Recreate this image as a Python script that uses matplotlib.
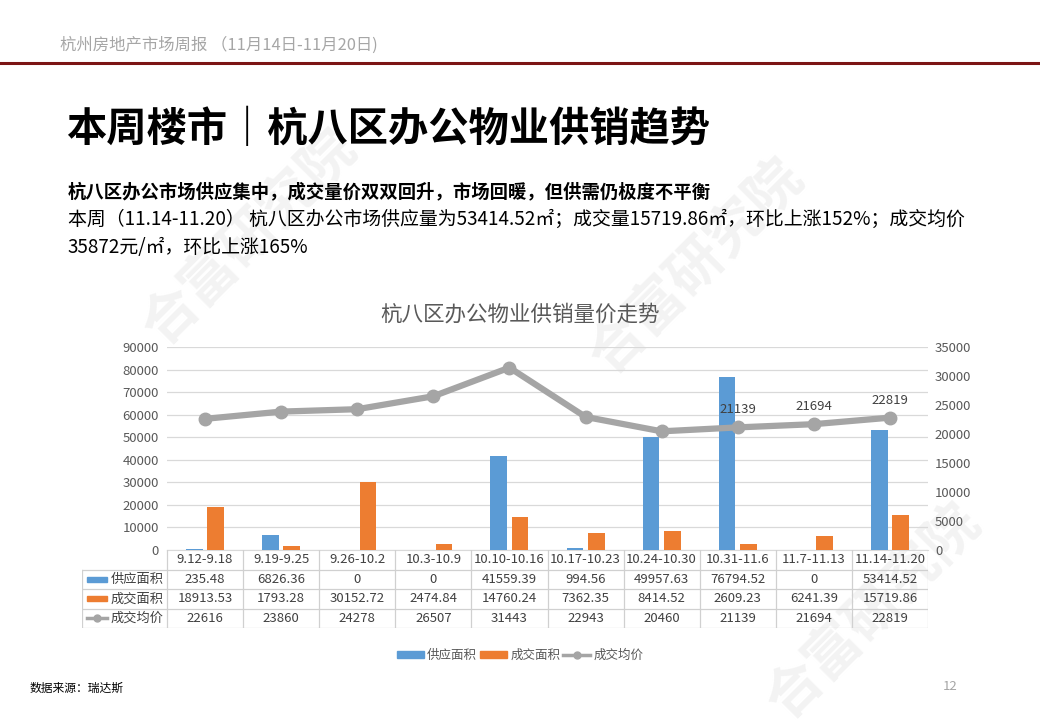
import numpy as np
import matplotlib
matplotlib.use("Agg")
import matplotlib.pyplot as plt
from matplotlib.patches import Rectangle
from matplotlib.lines import Line2D

plt.rcParams['font.family'] = ['Noto Sans CJK SC', 'DejaVu Sans']

# ---------------- data ----------------
weeks = ["9.12-9.18", "9.19-9.25", "9.26-10.2", "10.3-10.9", "10.10-10.16",
         "10.17-10.23", "10.24-10.30", "10.31-11.6", "11.7-11.13", "11.14-11.20"]
supply = [235.48, 6826.36, 0, 0, 41559.39, 994.56, 49957.63, 76794.52, 0, 53414.52]
deal = [18913.53, 1793.28, 30152.72, 2474.84, 14760.24, 7362.35, 8414.52, 2609.23, 6241.39, 15719.86]
price = [22616, 23860, 24278, 26507, 31443, 22943, 20460, 21139, 21694, 22819]

supply_txt = ["235.48", "6826.36", "0", "0", "41559.39", "994.56", "49957.63", "76794.52", "0", "53414.52"]
deal_txt = ["18913.53", "1793.28", "30152.72", "2474.84", "14760.24", "7362.35", "8414.52", "2609.23", "6241.39", "15719.86"]
price_txt = [str(p) for p in price]
row_names = ["供应面积", "成交面积", "成交均价"]

blue = "#5B9BD5"
orange = "#ED7D31"
grey = "#A5A5A5"
txtc = "#595959"
gridc = "#D9D9D9"

fig = plt.figure(figsize=(10.4, 7.2), dpi=100)
fig.patch.set_facecolor("white")

# ---------------- watermarks (faint, behind everything) ----------------
for (wx, wy) in [(0.24, 0.67), (0.67, 0.63), (0.84, 0.15)]:
    fig.text(wx, wy, "合富研究院", fontsize=40, color="#F3F3F3", rotation=45,
             ha="center", va="center", fontweight="bold", zorder=-10)

# ---------------- page header ----------------
fig.text(60/1040, 1-45/720, "杭州房地产市场周报 （11月14日-11月20日)", fontsize=11.8,
         color="#A6A6A6", va="center")
fig.add_artist(Line2D([0, 1], [1-63/720, 1-63/720], color="#7B1414", lw=2.2))
fig.text(66/1040, 1-130/720, "本周楼市｜杭八区办公物业供销趋势", fontsize=29,
         fontweight="bold", color="black", va="center")
fig.text(68/1040, 1-192/720, "杭八区办公市场供应集中，成交量价双双回升，市场回暖，但供需仍极度不平衡",
         fontsize=13.2, fontweight="bold", color="black", va="center")
fig.text(68/1040, 1-219/720,
         "本周（11.14-11.20） 杭八区办公市场供应量为53414.52㎡；成交量15719.86㎡，环比上涨152%；成交均价",
         fontsize=13.6, color="black", va="center")
fig.text(68/1040, 1-247/720, "35872元/㎡，环比上涨165%", fontsize=13.6, color="black", va="center")

# ---------------- chart ----------------
ax = fig.add_axes([167/1040, 1-550/720, 761/1040, 203/720])
ax.set_facecolor("none")
ax2 = ax.twinx()
x = np.arange(len(weeks))
w = 0.22
ax.bar(x - 0.14, supply, w, color=blue, zorder=3)
ax.bar(x + 0.14, deal, w, color=orange, zorder=3)
ax.set_xlim(-0.5, len(weeks) - 0.5)
ax.set_ylim(0, 90000)
ax.set_yticks(np.arange(0, 90001, 10000))
ax.yaxis.grid(True, color=gridc, lw=0.9, zorder=0)
ax.set_axisbelow(True)
ax.set_xticks([])
ax.tick_params(axis="y", length=0, labelsize=9.5, labelcolor=txtc, pad=6)
for s in ["top", "right", "left"]:
    ax.spines[s].set_visible(False)
ax.spines["bottom"].set_color(gridc)

ax2.plot(x, price, color=grey, lw=4.5, marker="o", ms=9, zorder=4,
         solid_capstyle="round")
ax2.set_ylim(0, 35000)
ax2.set_yticks(np.arange(0, 35001, 5000))
ax2.tick_params(axis="y", length=0, labelsize=9.5, labelcolor=txtc, pad=5)
for s in ["top", "right", "left", "bottom"]:
    ax2.spines[s].set_visible(False)
for i in [7, 8, 9]:
    ax2.annotate(str(price[i]), (x[i], price[i]), xytext=(0, 8), textcoords="offset points",
                 ha="center", va="bottom", fontsize=9.5, color="#404040")

fig.text(520/1040, 1-315/720, "杭八区办公物业供销量价走势", fontsize=15.5, color=txtc,
         ha="center", va="center")

# ---------------- data table ----------------
tax = fig.add_axes([82/1040, 1-628/720, 846/1040, 78/720])
tax.set_facecolor("none")
x0 = -0.5 - 85/76.1
tax.set_xlim(x0, len(weeks) - 0.5)
tax.set_ylim(0, 4)
tax.axis("off")
lc = "#D0D0D0"
for b in np.arange(-0.5, len(weeks) + 0.5, 1):
    tax.plot([b, b], [0, 4], color=lc, lw=0.9)
tax.plot([x0, x0], [0, 3], color=lc, lw=0.9)
for yy in [0, 1, 2, 3]:
    tax.plot([x0, len(weeks) - 0.5], [yy, yy], color=lc, lw=0.9)
for i, wk in enumerate(weeks):
    tax.text(i, 3.5, wk, ha="center", va="center", fontsize=9.5, color="#404040")
rows = [supply_txt, deal_txt, price_txt]
for r, vals in enumerate(rows):
    yc = 2.5 - r
    for i, v in enumerate(vals):
        tax.text(i, yc, v, ha="center", va="center", fontsize=9.5, color="#404040")
    tax.text(x0 + 0.38, yc, row_names[r], ha="left", va="center", fontsize=9.5, color="#404040")
tax.add_patch(Rectangle((x0 + 0.06, 2.38), 0.27, 0.26, color=blue, clip_on=False))
tax.add_patch(Rectangle((x0 + 0.06, 1.38), 0.27, 0.26, color=orange, clip_on=False))
tax.plot([x0 + 0.06, x0 + 0.33], [0.5, 0.5], color=grey, lw=2.5)
tax.plot([x0 + 0.195], [0.5], color=grey, marker="o", ms=5)

# ---------------- legend ----------------
handles = [Rectangle((0, 0), 1, 1, color=blue), Rectangle((0, 0), 1, 1, color=orange),
           Line2D([], [], color=grey, lw=2.5, marker="o", ms=5)]
fig.legend(handles, row_names, loc="center", bbox_to_anchor=(520/1040, 1-655/720), ncol=3,
           frameon=False, fontsize=9, labelcolor=txtc, handlelength=2.2, handleheight=0.5,
           columnspacing=0.2, handletextpad=0.25)

# ---------------- footer ----------------
fig.text(30/1040, 1-688/720, "数据来源：瑞达斯", fontsize=8.5, color="black", va="center")
fig.text(950/1040, 1-687/720, "12", fontsize=9.5, color="#A6A6A6", va="center", ha="center")

fig.savefig("out.png", dpi=100)
